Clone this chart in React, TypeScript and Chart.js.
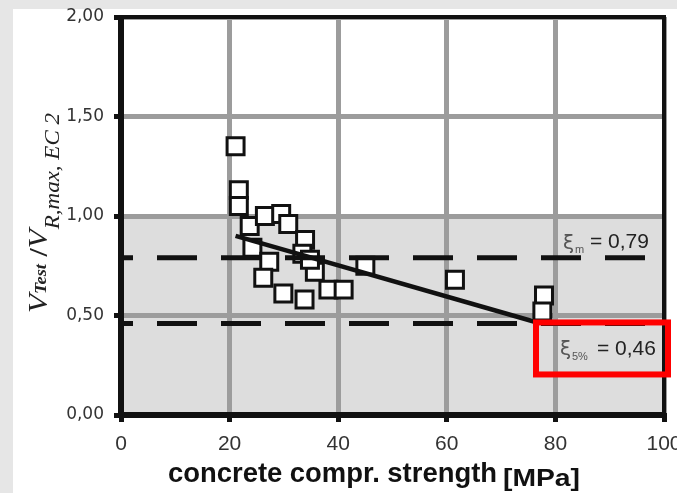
import React, { useEffect, useRef } from 'react';
import { Chart, registerables } from 'chart.js';

Chart.register(...registerables);

// ---- data ----
const strengthMPa = [21.1, 21.7, 21.7, 23.7, 24.2, 26.5, 29.5, 30.8, 33.9, 33.4, 27.3, 26.2, 29.9, 33.8, 35.7, 34.8, 38.2, 41.0, 45.0, 61.5, 77.9, 77.6];
const ratioValues = [1.35, 1.13, 1.05, 0.95, 0.84, 1.0, 1.01, 0.96, 0.88, 0.81, 0.77, 0.69, 0.61, 0.58, 0.72, 0.78, 0.63, 0.63, 0.75, 0.68, 0.6, 0.52];
const trendX = [21.1, 76.0];
const trendY = [0.9, 0.47];
const xiMean = 0.79;
const xi5 = 0.46;
const xiMeanLabel = '0,79';
const xi5Label = '0,46';
const xMin = 0;
const xMax = 100;
const xStep = 20;
const yMin = 0;
const yMax = 2;
const yStep = 0.5;
const shadeTop = 1.0;
const xTitle = 'concrete compr. strength';
const xUnit = '[MPa]';

const W = 677;
const H = 493;

const fmtY = (v: number) => v.toFixed(2).replace('.', ',');

const shadePlugin = {
  id: 'shade',
  beforeDraw(chart: any) {
    const { ctx, chartArea, scales } = chart;
    ctx.save();
    // page frame: light gray band on top and left
    ctx.fillStyle = '#ffffff';
    ctx.fillRect(0, 0, W, H);
    ctx.fillStyle = '#e6e6e6';
    ctx.fillRect(0, 0, W, 9);
    ctx.fillRect(0, 0, 13, H);
    const y1 = scales.y.getPixelForValue(shadeTop);
    const y0 = scales.y.getPixelForValue(yMin);
    ctx.fillStyle = '#dddddd';
    ctx.fillRect(chartArea.left, y1, chartArea.right - chartArea.left, y0 - y1);
    ctx.restore();
  },
};

const framePlugin = {
  id: 'frame',
  beforeDatasetsDraw(chart: any) {
    const { ctx, chartArea } = chart;
    ctx.save();
    ctx.strokeStyle = '#111';
    ctx.lineWidth = 4;
    ctx.strokeRect(chartArea.left, chartArea.top, chartArea.right - chartArea.left, chartArea.bottom - chartArea.top);
    ctx.lineWidth = 6;
    ctx.beginPath();
    ctx.moveTo(chartArea.left, chartArea.top - 2);
    ctx.lineTo(chartArea.left, chartArea.bottom);
    ctx.lineTo(chartArea.right + 2, chartArea.bottom);
    ctx.stroke();
    ctx.restore();
  },
};

const drawRuns = (ctx: CanvasRenderingContext2D, runs: { t: string; font: string; dy: number }[], target: number) => {
  let total = 0;
  for (const r of runs) {
    ctx.font = r.font;
    total += ctx.measureText(r.t).width;
  }
  const s = target / total;
  ctx.scale(s, 1);
  let x = 0;
  for (const r of runs) {
    ctx.font = r.font;
    ctx.fillText(r.t, x, r.dy);
    x += ctx.measureText(r.t).width;
  }
};

const textPlugin = {
  id: 'texts',
  afterDatasetsDraw(chart: any) {
    const { ctx, scales } = chart;
    const yMean = scales.y.getPixelForValue(xiMean);
    const y5 = scales.y.getPixelForValue(xi5);
    const xr = scales.x.getPixelForValue(xMax);

    ctx.save();
    ctx.textBaseline = 'alphabetic';
    ctx.textAlign = 'left';

    // xi_m label
    ctx.fillStyle = '#555';
    ctx.font = '20px "DejaVu Sans"';
    ctx.fillText('ξ', xr - 101, yMean - 9);
    ctx.font = '11px "Liberation Sans"';
    ctx.fillText('m', xr - 89, yMean - 5);
    ctx.fillStyle = '#222';
    ctx.font = '21px "Liberation Sans"';
    ctx.fillText('= ' + xiMeanLabel, xr - 74, yMean - 10);

    // red box
    ctx.strokeStyle = '#ff0000';
    ctx.lineWidth = 6;
    ctx.strokeRect(xr - 128, y5 - 1, 132, 52);

    // xi_5% label
    ctx.fillStyle = '#555';
    ctx.font = '20px "DejaVu Sans"';
    ctx.fillText('ξ', xr - 104, y5 + 32);
    ctx.font = '11px "Liberation Sans"';
    ctx.fillText('5%', xr - 92, y5 + 37);
    ctx.fillStyle = '#222';
    ctx.font = '21px "Liberation Sans"';
    ctx.fillText('= ' + xi5Label, xr - 67, y5 + 32);
    ctx.restore();

    // y axis title (rotated)
    ctx.save();
    ctx.fillStyle = '#222';
    ctx.textBaseline = 'alphabetic';
    ctx.translate(47, 313);
    ctx.rotate(-Math.PI / 2);
    drawRuns(
      ctx,
      [
        { t: 'V', font: 'italic 27px "Liberation Serif"', dy: 0 },
        { t: 'Test', font: 'italic bold 16px "Liberation Serif"', dy: -1 },
        { t: ' /', font: 'bold 26px "Liberation Serif"', dy: 0 },
        { t: 'V', font: 'italic 27px "Liberation Serif"', dy: 0 },
        { t: 'R,max, EC 2', font: 'italic 20px "Liberation Serif"', dy: 12 },
      ],
      200
    );
    ctx.restore();

    // x axis title
    ctx.save();
    ctx.fillStyle = '#111';
    ctx.textBaseline = 'alphabetic';
    ctx.translate(168, 482);
    drawRuns(ctx, [{ t: xTitle, font: 'bold 27px "Liberation Sans"', dy: 0 }], 329);
    ctx.restore();
    ctx.save();
    ctx.fillStyle = '#111';
    ctx.textBaseline = 'alphabetic';
    ctx.translate(503, 486);
    drawRuns(ctx, [{ t: xUnit, font: 'bold 24px "Liberation Sans"', dy: 0 }], 77);
    ctx.restore();
  },
};

export default function App() {
  const ref = useRef<HTMLCanvasElement | null>(null);

  useEffect(() => {
    if (!ref.current) return;
    const points = strengthMPa.map((x, i) => ({ x, y: ratioValues[i] }));
    const chart = new Chart(ref.current, {
      type: 'scatter',
      data: {
        datasets: [
          {
            label: 'trend',
            data: trendX.map((x, i) => ({ x, y: trendY[i] })),
            showLine: true,
            borderColor: '#111',
            borderWidth: 4.5,
            pointRadius: 0,
            order: 1,
          },
          {
            label: 'xi_m',
            data: [
              { x: xMin, y: xiMean },
              { x: xMax, y: xiMean },
            ],
            showLine: true,
            borderColor: '#111',
            borderWidth: 5,
            borderDash: [40, 24],
            borderDashOffset: 28,
            pointRadius: 0,
            order: 1,
          },
          {
            label: 'xi_5',
            data: [
              { x: xMin, y: xi5 },
              { x: xMax, y: xi5 },
            ],
            showLine: true,
            borderColor: '#111',
            borderWidth: 5,
            borderDash: [40, 24],
            borderDashOffset: 28,
            pointRadius: 0,
            order: 1,
          },
          {
            label: 'tests',
            data: points,
            showLine: false,
            pointStyle: 'rect',
            pointRadius: 12,
            pointBackgroundColor: '#ffffff',
            pointBorderColor: '#111',
            pointBorderWidth: 3,
            order: 2,
          },
        ],
      },
      options: {
        responsive: false,
        animation: false,
        events: [],
        layout: { autoPadding: false, padding: { top: 17, right: 13, left: 0, bottom: 0 } },
        plugins: { legend: { display: false }, tooltip: { enabled: false } },
        scales: {
          x: {
            type: 'linear',
            min: xMin,
            max: xMax,
            afterFit: (s: any) => {
              s.height = 78;
              s.paddingLeft = 0;
              s.paddingRight = 0;
            },
            ticks: {
              stepSize: xStep,
              color: '#333',
              font: { family: 'Liberation Sans', size: 21 },
              padding: 10,
              maxRotation: 0,
              autoSkip: false,
            },
            grid: { color: '#9c9c9c', lineWidth: 5, tickColor: '#111', tickWidth: 5, tickLength: 7 },
            border: { display: true, color: '#111', width: 5 },
          },
          y: {
            type: 'linear',
            min: yMin,
            max: yMax,
            afterFit: (s: any) => {
              s.width = 121;
              s.paddingTop = 0;
              s.paddingBottom = 0;
            },
            ticks: {
              stepSize: yStep,
              color: '#333',
              font: { family: 'DejaVu Sans', size: 17 },
              padding: 10,
              callback: (v: any) => fmtY(Number(v)),
            },
            grid: { color: '#9c9c9c', lineWidth: 5, tickColor: '#111', tickWidth: 5, tickLength: 7 },
            border: { display: true, color: '#111', width: 5 },
          },
        },
      },
      plugins: [shadePlugin, framePlugin, textPlugin],
    });
    return () => chart.destroy();
  }, []);

  return (
    <div style={{ position: 'fixed', left: 0, top: 0, width: W, height: H, background: '#ffffff', overflow: 'hidden' }}>
      <canvas ref={ref} width={W} height={H} style={{ display: 'block', width: W, height: H }} />
    </div>
  );
}
